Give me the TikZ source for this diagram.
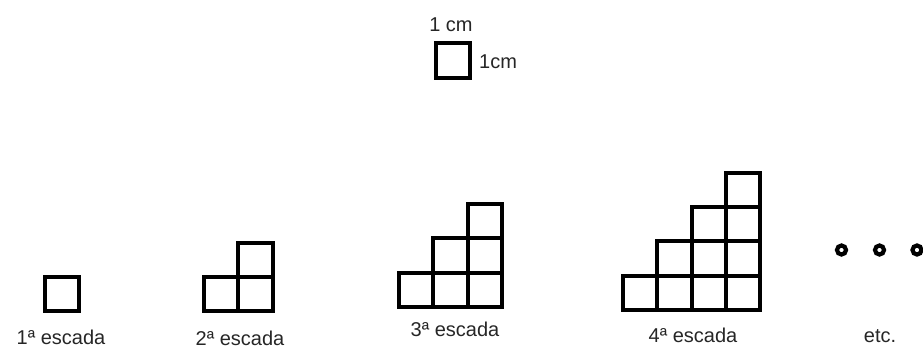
\documentclass[tikz,border=0pt]{standalone}
\usepackage{fontspec}
\setmainfont{Liberation Sans}
\tikzset{
  cell/.style={draw, line width=4pt, minimum size=34.3pt, inner sep=0pt, outer sep=0pt},
  lbl/.style={font=\fontsize{20}{22}\selectfont, text=black!85, anchor=base, inner sep=0pt},
  dotc/.style={draw, circle, line width=4.2pt, minimum size=9pt, inner sep=0pt}
}
\begin{document}
\begin{tikzpicture}[x=1pt,y=-1pt]
\useasboundingbox (0,0) rectangle (923,349);
% unit square
\node[cell] (u) at (453,60.5) {};
\node[lbl] (ut) at (451,31) {1 cm};
\node[lbl, anchor=base west] (ur) at (479,68) {1cm};
% 1st
\node[cell] (a11) at (62,294) {};
\node[lbl] (al) at (61,344) {1ª escada};
% 2nd
\node[cell] (b11) at (221.2,294) {};
\node[cell] (b21) at (255.5,294) {};
\node[cell] (b22) at (255.5,259.7) {};
\node[lbl] (bl) at (240,345) {2ª escada};
% 3rd
\foreach \i in {1,...,3}{
  \foreach \j in {1,...,\i}{
    \node[cell] (c\i\j) at ({399+34.3*(\i-0.5)},{307-34.3*(\j-0.5)}) {};
  }
}
\node[lbl] (cl) at (455,336) {3ª escada};
% 4th
\foreach \i in {1,...,4}{
  \foreach \j in {1,...,\i}{
    \node[cell] (d\i\j) at ({623+34.3*(\i-0.5)},{310-34.3*(\j-0.5)}) {};
  }
}
\node[lbl] (dl) at (693,342) {4ª escada};
% dots
\node[dotc] (p1) at (841.5,250) {};
\node[dotc] (p2) at (879.5,250) {};
\node[dotc] (p3) at (917,250) {};
\node[lbl] (el) at (880,342) {etc.};
\end{tikzpicture}
\end{document}
